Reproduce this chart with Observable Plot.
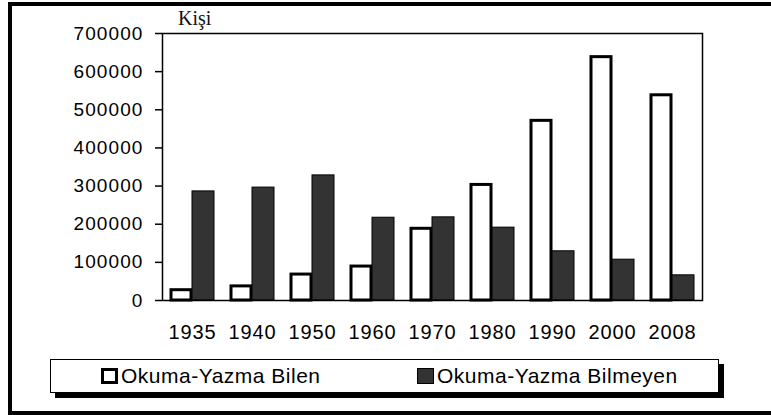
<!DOCTYPE html>
<html>
<head>
<meta charset="utf-8">
<script src="https://cdn.jsdelivr.net/npm/d3@7"></script>
<script src="https://cdn.jsdelivr.net/npm/@observablehq/plot@0.6"></script>
<style>
  html, body { margin: 0; padding: 0; background: #fff; width: 771px; height: 415px; overflow: hidden; }
  #wrap { position: relative; width: 771px; height: 415px; }
  #border { position: absolute; left: 8px; top: 2px; width: 820px; height: 413px; box-sizing: border-box;
    border-top: 4px solid #000; border-left: 4px solid #000; border-bottom: 4px solid #000; }
  #chart { position: absolute; left: 0; top: 0; }
  #unit { position: absolute; left: 178px; top: 7px; font-family: "Liberation Serif", "Times New Roman", serif; font-size: 20px; color: #111; }
  #legend { position: absolute; left: 50px; top: 359px; width: 669px; height: 34px; box-sizing: border-box;
    border: 1.5px solid #000; background: #fff; box-shadow: 5px 5px 0 #000;
    font-family: "Liberation Sans", Arial, sans-serif; font-size: 21px; color: #000; }
  .item { position: absolute; top: 4px; display: flex; align-items: center; letter-spacing: 0.5px; }
  .sw { width: 17px; height: 16px; box-sizing: border-box; border: 3px solid #000; margin-right: 3px; }
</style>
</head>
<body>
<div id="wrap">
  <div id="border"></div>
  <div id="chart"></div>
  <div id="unit">Kişi</div>
  <div id="legend"></div>
</div>
<script>
const years = ["1935", "1940", "1950", "1960", "1970", "1980", "1990", "2000", "2008"];
const bilen = [27000, 37000, 68000, 89000, 188000, 303000, 471000, 638000, 538000];
const bilmeyen = [286000, 296000, 328000, 217000, 218000, 191000, 129000, 107000, 66000];
const seriesNames = ["Okuma-Yazma Bilen", "Okuma-Yazma Bilmeyen"];
const yTicks = [0, 100000, 200000, 300000, 400000, 500000, 600000, 700000];

const dataBilen = years.map((y, i) => ({year: y, value: bilen[i]}));
const dataBilmeyen = years.map((y, i) => ({year: y, value: bilmeyen[i]}));

const plot = Plot.plot({
  width: 771,
  height: 350,
  marginLeft: 162,
  marginRight: 69,
  marginTop: 33,
  marginBottom: 50,
  style: {fontFamily: '"Liberation Sans", Arial, sans-serif', color: "#000", background: "transparent"},
  x: {type: "band", domain: years, padding: 0},
  y: {domain: [0, 700000]},
  marks: [
    Plot.barY(dataBilen, {x: "year", y: "value", fill: "#fff", stroke: "#000", strokeWidth: 3, insetLeft: 9, insetRight: 31}),
    Plot.barY(dataBilmeyen, {x: "year", y: "value", fill: "#333", stroke: "#000", strokeWidth: 1, insetLeft: 30, insetRight: 8}),
    Plot.frame({stroke: "#000", strokeWidth: 1.5}),
    Plot.axisY({ticks: yTicks, tickFormat: d => String(d), tickSize: 7, tickPadding: 12, fontSize: 19, label: null, stroke: "#000", strokeWidth: 1.5, style: {letterSpacing: "1.1px"}}),
    Plot.axisX({tickSize: 0, tickPadding: 24.5, fontSize: 20, label: null, style: {letterSpacing: "0.9px"}})
  ]
});
document.getElementById("chart").appendChild(plot);
plot.querySelectorAll("g[aria-label='y-axis tick label'] text").forEach(t => t.style.letterSpacing = "1.1px");
plot.querySelectorAll("g[aria-label='x-axis tick label'] text").forEach(t => t.style.letterSpacing = "0.9px");

const legend = document.getElementById("legend");
const fills = ["#fff", "#333"];
const lefts = [50, 366];
seriesNames.forEach((name, i) => {
  const it = document.createElement("div");
  it.className = "item";
  it.style.left = lefts[i] + "px";
  const sw = document.createElement("div");
  sw.className = "sw";
  sw.style.background = fills[i];
  if (i === 1) sw.style.borderWidth = "1.5px";
  it.appendChild(sw);
  const t = document.createElement("span");
  t.textContent = name;
  it.appendChild(t);
  legend.appendChild(it);
});
</script>
</body>
</html>
